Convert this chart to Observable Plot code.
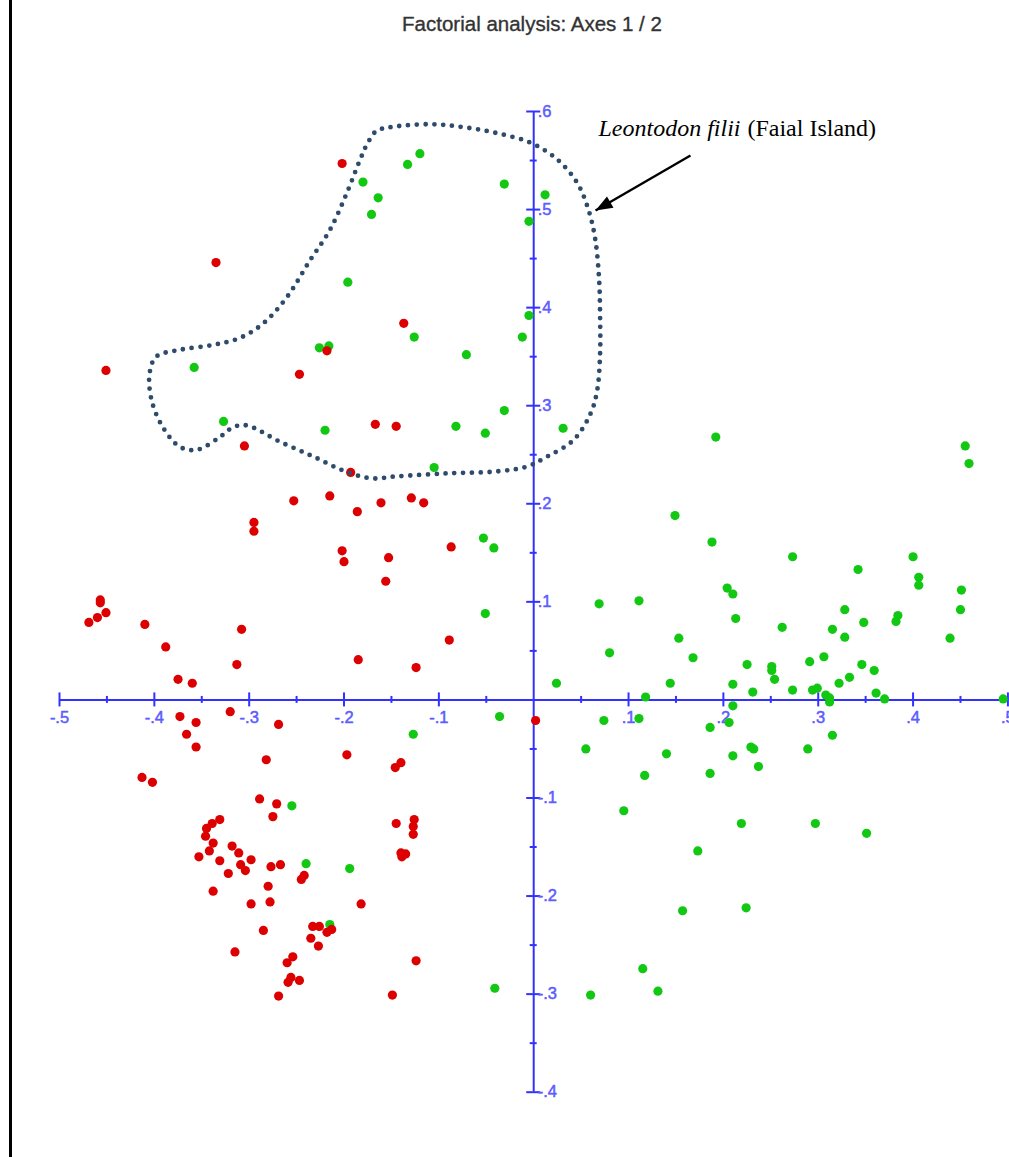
<!DOCTYPE html>
<html>
<head>
<meta charset="utf-8">
<script src="https://cdn.jsdelivr.net/npm/d3@7"></script>
<script src="https://cdn.jsdelivr.net/npm/@observablehq/plot@0.6"></script>
<style>
  html, body { margin: 0; padding: 0; background: #fff; }
  #page { position: relative; width: 1009px; height: 1157px; overflow: hidden; }
  #edge { position: absolute; left: 9px; top: 0; width: 2.5px; height: 1157px; background: #000; }
  #title { position: absolute; top: 14px; left: 532px; transform: translateX(-50%);
           font: 20.5px/1 "Liberation Sans", Arial, sans-serif; color: #333; white-space: nowrap;
           -webkit-text-stroke: 0.35px #333; }
  #chart { position: absolute; left: 0; top: 55px; }
</style>
</head>
<body>
<div id="page">
  <div id="edge"></div>
  <div id="title">Factorial analysis: Axes 1 / 2</div>
  <div id="chart"></div>
</div>
<script>
// Axis ticks and their labels
const xTicks = [-0.5, -0.4, -0.3, -0.2, -0.1, 0.1, 0.2, 0.3, 0.4, 0.5];
const xTickLabels = ["-.5", "-.4", "-.3", "-.2", "-.1", ".1", ".2", ".3", ".4", ".5"];
const xMinorTicks = [-0.45, -0.35, -0.25, -0.15, -0.05, 0.05, 0.15, 0.25, 0.35, 0.45];
const yTicks = [0.6, 0.5, 0.4, 0.3, 0.2, 0.1, -0.1, -0.2, -0.3, -0.4];
const yTickLabels = [".6", ".5", ".4", ".3", ".2", ".1", "-.1", "-.2", "-.3", "-.4"];
const yMinorTicks = [0.55, 0.45, 0.35, 0.25, 0.15, 0.05, -0.05, -0.15, -0.25, -0.35];

// Factor scores on axes 1 and 2, one array per group
const redPoints = [
  [-0.202, 0.547], [-0.335, 0.446], [-0.451, 0.336], [-0.137, 0.384], [-0.218, 0.356],
  [-0.247, 0.332], [-0.305, 0.259], [-0.167, 0.281], [-0.145, 0.279], [-0.193, 0.232],
  [-0.215, 0.208], [-0.253, 0.203], [-0.186, 0.192], [-0.295, 0.181], [-0.295, 0.172],
  [-0.202, 0.152], [-0.200, 0.141], [-0.457, 0.102], [-0.457, 0.099], [-0.451, 0.089],
  [-0.460, 0.084], [-0.469, 0.079], [-0.410, 0.077], [-0.308, 0.072], [-0.388, 0.054],
  [-0.313, 0.036], [-0.375, 0.021], [-0.360, 0.017], [-0.185, 0.041], [-0.161, 0.201],
  [-0.129, 0.206], [-0.116, 0.201], [-0.087, 0.156], [-0.153, 0.145], [-0.156, 0.121],
  [-0.089, 0.061], [-0.124, 0.033], [-0.320, -0.012], [-0.373, -0.017], [-0.356, -0.023],
  [-0.269, -0.025], [-0.366, -0.035], [-0.356, -0.048], [-0.282, -0.061], [-0.197, -0.056],
  [-0.146, -0.069], [-0.140, -0.064], [-0.413, -0.079], [-0.402, -0.084], [-0.289, -0.101],
  [-0.271, -0.106], [-0.275, -0.119], [-0.331, -0.122], [-0.339, -0.126], [-0.345, -0.131],
  [-0.346, -0.139], [-0.338, -0.146], [-0.342, -0.154], [-0.318, -0.149], [-0.311, -0.156],
  [-0.353, -0.160], [-0.298, -0.163], [-0.331, -0.164], [-0.309, -0.168], [-0.304, -0.174],
  [-0.322, -0.177], [-0.277, -0.170], [-0.267, -0.168], [-0.242, -0.179], [-0.245, -0.183],
  [-0.280, -0.190], [-0.338, -0.195], [-0.278, -0.206], [-0.298, -0.208], [-0.182, -0.208],
  [-0.145, -0.126], [-0.126, -0.122], [-0.127, -0.129], [-0.127, -0.137], [-0.140, -0.156],
  [-0.135, -0.157], [-0.139, -0.160], [-0.285, -0.235], [-0.233, -0.231], [-0.226, -0.231],
  [-0.218, -0.237], [-0.213, -0.234], [-0.235, -0.243], [-0.227, -0.251], [-0.315, -0.257],
  [-0.254, -0.262], [-0.260, -0.268], [-0.256, -0.283], [-0.247, -0.286], [-0.259, -0.288],
  [-0.269, -0.302], [-0.149, -0.301], [-0.124, -0.266], [0.002, -0.021]
];

const greenPoints = [
  [-0.120, 0.557], [-0.133, 0.546], [-0.180, 0.528], [-0.164, 0.512], [-0.171, 0.495],
  [-0.031, 0.526], [0.012, 0.515], [-0.005, 0.488], [-0.196, 0.426], [-0.005, 0.392],
  [-0.126, 0.370], [-0.012, 0.370], [-0.226, 0.359], [-0.216, 0.361], [-0.071, 0.352],
  [-0.358, 0.339], [-0.031, 0.295], [-0.327, 0.284], [-0.220, 0.275], [-0.082, 0.279],
  [-0.051, 0.272], [0.031, 0.277], [-0.105, 0.237], [-0.053, 0.165], [-0.042, 0.155],
  [-0.051, 0.088], [0.069, 0.098], [0.111, 0.101], [0.080, 0.048], [0.024, 0.017],
  [0.192, 0.268], [0.455, 0.259], [0.459, 0.241], [0.149, 0.188], [0.188, 0.161],
  [0.273, 0.146], [0.400, 0.146], [0.342, 0.133], [0.406, 0.125], [0.406, 0.117],
  [0.204, 0.114], [0.210, 0.108], [0.451, 0.112], [0.328, 0.092], [0.450, 0.092],
  [0.213, 0.083], [0.384, 0.086], [0.382, 0.080], [0.348, 0.079], [0.262, 0.074],
  [0.315, 0.072], [0.328, 0.064], [0.153, 0.063], [0.439, 0.063], [0.168, 0.043],
  [0.306, 0.044], [0.291, 0.039], [0.225, 0.036], [0.346, 0.036], [0.251, 0.034],
  [0.251, 0.030], [0.359, 0.030], [0.333, 0.023], [0.254, 0.021], [0.144, 0.017],
  [0.322, 0.017], [0.210, 0.016], [0.273, 0.010], [0.294, 0.010], [0.299, 0.012],
  [0.231, 0.008], [0.361, 0.007], [0.118, 0.003], [0.308, 0.005], [0.312, 0.002],
  [0.312, -0.002], [0.370, 0.001], [0.495, 0.001], [0.210, -0.006], [-0.036, -0.017],
  [0.074, -0.021], [0.111, -0.019], [0.206, -0.023], [0.186, -0.028], [0.055, -0.050],
  [0.140, -0.055], [0.229, -0.048], [0.232, -0.050], [0.210, -0.057], [0.289, -0.050],
  [0.315, -0.036], [0.237, -0.068], [0.117, -0.077], [0.186, -0.075], [0.095, -0.113],
  [0.219, -0.126], [0.297, -0.126], [0.351, -0.136], [0.173, -0.154], [0.157, -0.215],
  [0.224, -0.212], [0.115, -0.274], [0.131, -0.297], [0.060, -0.301], [-0.041, -0.294],
  [-0.127, -0.035], [-0.255, -0.108], [-0.240, -0.167], [-0.194, -0.172], [-0.215, -0.229]
];

// Hand-drawn outline around the Leontodon filii group
const outlineX = [-0.166, -0.151, -0.109, -0.074, -0.039, -0.003, 0.025, 0.046, 0.058, 0.065,
  0.069, 0.070, 0.070, 0.067, 0.060, 0.042, 0.014, -0.007, -0.039, -0.091,
  -0.144, -0.172, -0.201, -0.232, -0.267, -0.303, -0.317, -0.331, -0.355, -0.373,
  -0.391, -0.403, -0.405, -0.398, -0.373, -0.338, -0.310, -0.285, -0.260, -0.236,
  -0.215, -0.197, -0.183, -0.1755];
const outlineY = [0.580, 0.584, 0.587, 0.584, 0.578, 0.568, 0.551, 0.527, 0.499, 0.469,
  0.428, 0.391, 0.353, 0.316, 0.292, 0.265, 0.248, 0.238, 0.233, 0.231,
  0.228, 0.226, 0.234, 0.248, 0.263, 0.280, 0.278, 0.268, 0.255, 0.258,
  0.278, 0.306, 0.333, 0.350, 0.357, 0.362, 0.369, 0.384, 0.411, 0.448,
  0.479, 0.517, 0.551, 0.567];

// Annotation: label and pointer
const labelItalic = ["Leontodon filii"];
const labelRoman = ["(Faial Island)"];
const labelStart = [0.0683, 0.575];
const labelEnd = [0.361, 0.575];
const pointer = [{x1: 0.1653, y1: 0.5551, x2: 0.0652, y2: 0.4990}];

const W = 1009, H = 1102;
const margin = {top: 56, right: 1.6, bottom: 65.3, left: 59};
const xDomain = [-0.5, 0.5], yDomain = [-0.4, 0.6];

const axisColor = "#3232ff";
const labelColor = "#5c5cff";
const redColor = "#dd0000";
const greenColor = "#12c812";
const outlineColor = "#2f4b6b";
const sans = "'Liberation Sans', Arial, sans-serif";
const serif = "'Liberation Serif', 'Times New Roman', serif";

// Direction of the pointer in screen space, used to orient its head
const kx = (W - margin.left - margin.right) / (xDomain[1] - xDomain[0]);
const ky = (H - margin.top - margin.bottom) / (yDomain[1] - yDomain[0]);
const p = pointer[0];
const headAngle = Math.atan2(-(p.y2 - p.y1) * ky, (p.x2 - p.x1) * kx) * 180 / Math.PI + 90;
const arrowHead = {
  draw(ctx) { ctx.moveTo(0, 0); ctx.lineTo(6.5, 17); ctx.lineTo(-6.5, 17); ctx.closePath(); }
};

const outline = outlineX.map((x, i) => ({x, y: outlineY[i]}));

const chart = Plot.plot({
  width: W,
  height: H,
  marginTop: margin.top,
  marginRight: margin.right,
  marginBottom: margin.bottom,
  marginLeft: margin.left,
  x: {domain: xDomain, axis: null},
  y: {domain: yDomain, axis: null},
  style: {background: "transparent", overflow: "visible"},
  marks: [
    // axes crossing at the origin
    Plot.ruleY([0], {x1: xDomain[0], x2: xDomain[1], stroke: axisColor, strokeWidth: 2}),
    Plot.ruleX([0], {y1: yDomain[0], y2: yDomain[1], stroke: axisColor, strokeWidth: 2}),
    Plot.ruleX(xTicks, {x: d => d, y1: 0, y2: 0, insetTop: -7, insetBottom: -7, stroke: axisColor, strokeWidth: 2}),
    Plot.ruleX(xMinorTicks, {x: d => d, y1: 0, y2: 0, insetTop: -3.5, insetBottom: -3.5, stroke: axisColor, strokeWidth: 2}),
    Plot.ruleY(yTicks, {y: d => d, x1: 0, x2: 0, insetLeft: -7, insetRight: -7, stroke: axisColor, strokeWidth: 2}),
    Plot.ruleY(yMinorTicks, {y: d => d, x1: 0, x2: 0, insetLeft: -3.5, insetRight: -3.5, stroke: axisColor, strokeWidth: 2}),
    Plot.text(xTickLabels, {x: (d, i) => xTicks[i], y: 0, text: d => d, dy: 18,
      fill: labelColor, stroke: labelColor, strokeWidth: 0.5, fontSize: 16.5, fontFamily: sans}),
    Plot.text(yTickLabels, {x: 0, y: (d, i) => yTicks[i], text: d => d, dx: 4, textAnchor: "start",
      fill: labelColor, stroke: labelColor, strokeWidth: 0.5, fontSize: 16.5, fontFamily: sans}),

    // observations
    Plot.dot(greenPoints, {x: d => d[0], y: d => d[1], r: 4.6, fill: greenColor}),
    Plot.dot(redPoints, {x: d => d[0], y: d => d[1], r: 4.6, fill: redColor}),

    // dotted outline of the group
    Plot.line(outline, {x: "x", y: "y", curve: "catmull-rom-closed", stroke: outlineColor,
      strokeWidth: 4.8, strokeDasharray: "0 8.8", strokeLinecap: "round"}),

    // annotation
    Plot.text(labelItalic, {x: labelStart[0], y: labelStart[1], text: d => d, textAnchor: "start",
      lineAnchor: "bottom", fontFamily: serif, fontStyle: "italic", fontSize: 24, fill: "#000"}),
    Plot.text(labelRoman, {x: labelEnd[0], y: labelEnd[1], text: d => d, textAnchor: "end",
      lineAnchor: "bottom", fontFamily: serif, fontSize: 24, fill: "#000"}),
    Plot.link(pointer, {x1: "x1", y1: "y1", x2: "x2", y2: "y2", stroke: "#000", strokeWidth: 2.4}),
    Plot.dot(pointer, {x: "x2", y: "y2", symbol: arrowHead, rotate: headAngle, fill: "#000", stroke: "none"})
  ]
});

document.getElementById("chart").appendChild(chart);
</script>
</body>
</html>
